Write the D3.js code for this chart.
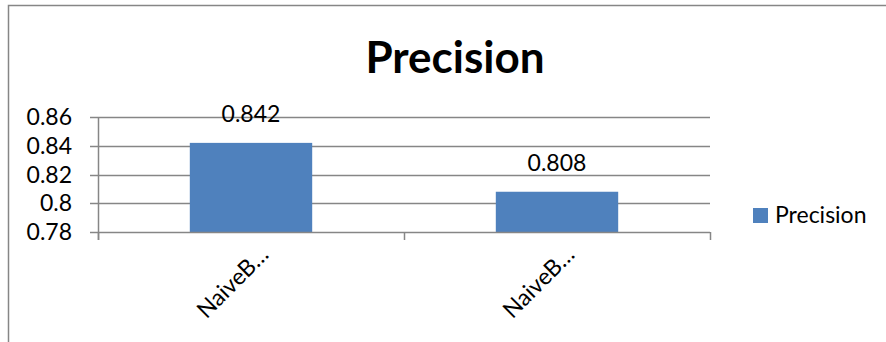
<!DOCTYPE html>
<html>
<head>
<meta charset="utf-8">
<script src="https://cdn.jsdelivr.net/npm/d3@7"></script>
<style>
  html, body { margin: 0; padding: 0; background: #fff; }
  svg { display: block; }
  text { font-family: Lato, "Open Sans", sans-serif; fill: #000; }
</style>
</head>
<body>
<svg id="chart" width="886" height="342"></svg>
<script>
// Chart data
const categories = ["NaiveB…", "NaiveB… "];
const precision = [0.842, 0.808];
const yTicks = [0.78, 0.8, 0.82, 0.84, 0.86];
const yTickLabels = ["0.78", "0.8", "0.82", "0.84", "0.86"];
const seriesName = "Precision";
const chartTitle = "Precision";

const svg = d3.select("#chart");
const W = 886, H = 342;
const plot = { left: 98, right: 710, top: 117, bottom: 232 };
const barColor = "#4F81BD";
const gridColor = "#868686";
const fontSize = "23px";

// Outer chart frame (runs off the right and bottom edges)
svg.append("path")
  .attr("d", `M8.5,${H + 2} V5.5 H${W + 2}`)
  .attr("fill", "none")
  .attr("stroke", gridColor)
  .attr("stroke-width", 1.5);

const x = d3.scaleBand()
  .domain(categories)
  .range([plot.left, plot.right])
  .paddingInner(0.6)
  .paddingOuter(0.3);

const xCat = d3.scaleBand().domain(categories).range([plot.left, plot.right]);

const y = d3.scaleLinear()
  .domain([0.78, 0.86])
  .range([plot.bottom, plot.top]);

// Horizontal gridlines with left tick stubs
svg.append("g")
  .selectAll("line")
  .data(yTicks.slice(1))
  .join("line")
  .attr("x1", plot.left - 8)
  .attr("x2", plot.right)
  .attr("y1", d => Math.round(y(d)) + 0.5)
  .attr("y2", d => Math.round(y(d)) + 0.5)
  .attr("stroke", gridColor)
  .attr("stroke-width", 1.5);

// Y tick labels
svg.append("g")
  .selectAll("text")
  .data(yTicks)
  .join("text")
  .attr("x", 72)
  .attr("y", d => y(d) + 8)
  .attr("text-anchor", "end")
  .style("font-size", fontSize)
  .text((d, i) => yTickLabels[i]);

// Bars
svg.append("g")
  .selectAll("rect")
  .data(precision)
  .join("rect")
  .attr("x", (d, i) => x(categories[i]))
  .attr("width", x.bandwidth())
  .attr("y", d => y(d))
  .attr("height", d => y(0.78) - y(d))
  .attr("fill", barColor);

// Value labels above bars
svg.append("g")
  .selectAll("text")
  .data(precision)
  .join("text")
  .attr("x", (d, i) => x(categories[i]) + x.bandwidth() / 2)
  .attr("y", d => y(d) - 20.5)
  .attr("text-anchor", "middle")
  .style("font-size", fontSize)
  .text(d => d3.format(".3f")(d));

// Y axis line
svg.append("line")
  .attr("x1", plot.left + 0.5).attr("x2", plot.left + 0.5)
  .attr("y1", plot.top).attr("y2", plot.bottom + 8)
  .attr("stroke", gridColor).attr("stroke-width", 1.5);

// X axis line and category ticks
svg.append("line")
  .attr("x1", plot.left - 8).attr("x2", plot.right)
  .attr("y1", plot.bottom + 0.5).attr("y2", plot.bottom + 0.5)
  .attr("stroke", gridColor).attr("stroke-width", 1.5);

const tickXs = [plot.left, ...categories.map(c => xCat(c) + xCat.bandwidth())];
svg.append("g")
  .selectAll("line")
  .data(tickXs)
  .join("line")
  .attr("x1", d => d + 0.5).attr("x2", d => d + 0.5)
  .attr("y1", plot.bottom).attr("y2", plot.bottom + 8)
  .attr("stroke", gridColor).attr("stroke-width", 1.5);

// Rotated category labels
svg.append("g")
  .selectAll("text")
  .data(categories)
  .join("text")
  .attr("transform", d => `translate(${xCat(d) + xCat.bandwidth() / 2 + 19},256) rotate(-45)`)
  .attr("text-anchor", "end")
  .style("font-size", fontSize)
  .text(d => d.trim());

// Title
svg.append("text")
  .attr("x", 455)
  .attr("y", 73)
  .attr("text-anchor", "middle")
  .style("font-size", "44px")
  .style("font-weight", "bold")
  .text(chartTitle);

// Legend
const legend = svg.append("g").attr("transform", "translate(753,208)");
legend.append("rect").attr("width", 15).attr("height", 15).attr("fill", barColor);
legend.append("text")
  .attr("x", 22).attr("y", 14.5)
  .style("font-size", fontSize)
  .text(seriesName);
</script>
</body>
</html>
